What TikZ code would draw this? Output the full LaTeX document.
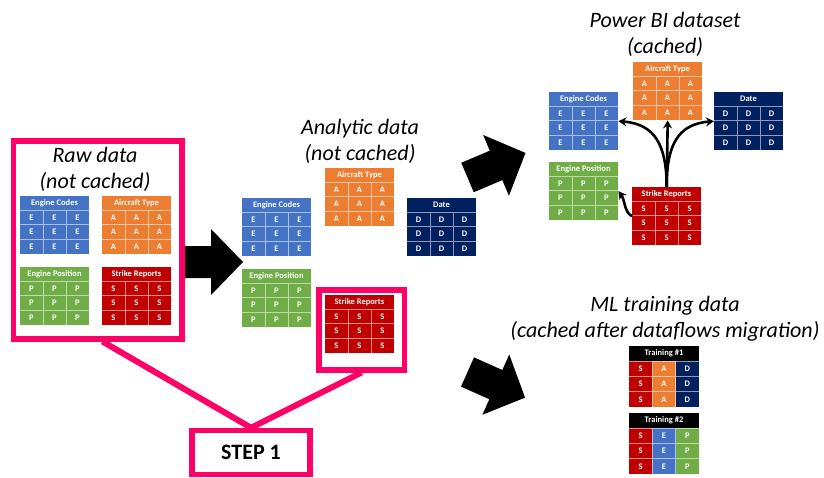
\documentclass[tikz,border=0pt]{standalone}
\usepackage{fontspec}
\setmainfont{Carlito}
\usetikzlibrary{arrows.meta}

\definecolor{ecblue}{RGB}{68,114,196}
\definecolor{atorange}{RGB}{237,125,49}
\definecolor{dtnavy}{RGB}{0,32,96}
\definecolor{epgreen}{RGB}{112,173,71}
\definecolor{srred}{RGB}{192,0,0}
\definecolor{steppink}{RGB}{255,0,102}

\tikzset{
  ttl/.style={font=\itshape\fontsize{22}{26}\selectfont, align=center},
  tblbody/.style={anchor=north west, inner sep=0pt, minimum width=69, minimum height=58},
  tblhead/.style={text=white, font=\bfseries\fontsize{8.5}{9}\selectfont, inner sep=0pt},
  tblcell/.style={text=white, font=\bfseries\fontsize{8.5}{9}\selectfont, inner sep=0pt},
  tblgrid/.style={draw=white, draw opacity=0.55, line width=0.9pt},
  pinkbox/.style={draw=steppink, line width=5.5pt, inner sep=0pt},
  pinkline/.style={draw=steppink, line width=6pt},
  curv/.style={-{Stealth[length=8pt,width=9pt]}, line width=2.6pt},
  bigarrow/.pic={\fill (0,-16) -- (31,-16) -- (31,-33) -- (63,0) -- (31,33) -- (31,16) -- (0,16) -- cycle;}
}

% name, corner, colour, title, letter
\newcommand{\datatable}[5]{%
  \node[tblbody, fill=#3] (#1) at (#2) {};
  \begin{scope}[shift={(#2)}]
    \node[tblhead] at (34.5,7) {#4};
    \foreach \c in {0,1,2}
      \foreach \r in {0,1,2}
        \node[tblcell] at (11.5+23*\c,21.3+14.6*\r) {#5};
    \draw[tblgrid] (0,14) -- (69,14) (0,28.7) -- (69,28.7) (0,43.3) -- (69,43.3)
      (23,14) -- (23,58) (46,14) -- (46,58);
  \end{scope}}

% name, corner, title, colour/letter list
\newcommand{\traintable}[4]{%
  \node[tblbody, minimum width=70, minimum height=61, fill=black] (#1) at (#2) {};
  \begin{scope}[shift={(#2)}]
    \node[tblhead] at (35,7.5) {#3};
    \foreach \cl/\ch [count=\c from 0] in {#4}{
      \fill[\cl] (23.33*\c,15) rectangle ++(23.33,46);
      \foreach \r in {0,1,2}
        \node[tblcell] at (11.67+23.33*\c,22.7+15.3*\r) {\ch};}
    \draw[tblgrid] (0,15) -- (70,15) (0,30.3) -- (70,30.3) (0,45.7) -- (70,45.7)
      (23.33,15) -- (23.33,61) (46.67,15) -- (46.67,61);
  \end{scope}}

\begin{document}
\begin{tikzpicture}[x=1pt,y=-1pt]
  \useasboundingbox (0,0) rectangle (824,477);

  % big arrows between the stages
  \pic at (180,262) {bigarrow};
  \pic[rotate=23] at (467.5,177.5) {bigarrow};
  \pic[rotate=-24] at (467.5,372) {bigarrow};

  % raw data
  \node[pinkbox, minimum width=168.5, minimum height=198, anchor=north west] (rawbox) at (10.5,138) {};
  \node[ttl] (rawtitle) at (95,169) {Raw data\\(not cached)};
  \datatable{rec}{20,196}{ecblue}{Engine Codes}{E}
  \datatable{rat}{102,196}{atorange}{Aircraft Type}{A}
  \datatable{rep}{20,267}{epgreen}{Engine Position}{P}
  \datatable{rsr}{102,267}{srred}{Strike Reports}{S}

  % analytic data
  \node[ttl] (anatitle) at (360,141) {Analytic data\\(not cached)};
  \node[pinkbox, minimum width=85.5, minimum height=80, anchor=north west] (srbox) at (316,287) {};
  \datatable{aat}{325,168}{atorange}{Aircraft Type}{A}
  \datatable{aec}{242,198}{ecblue}{Engine Codes}{E}
  \datatable{adt}{407,198}{dtnavy}{Date}{D}
  \datatable{aep}{242,269}{epgreen}{Engine Position}{P}
  \datatable{asr}{325,295}{srred}{Strike Reports}{S}

  % step 1
  \node[pinkbox, minimum width=118, minimum height=44, font=\bfseries\fontsize{22}{26}\selectfont] (step) at (251,452.5) {STEP 1};
  \draw[pinkline] ([xshift=5pt]rawbox.south) -- (step.north);
  \draw[pinkline] (srbox.south) -- (step.north);

  % power bi dataset
  \node[ttl] (pbititle) at (665,34) {Power BI dataset\\(cached)};
  \datatable{pat}{633,62}{atorange}{Aircraft Type}{A}
  \datatable{pec}{549,92}{ecblue}{Engine Codes}{E}
  \datatable{pdt}{714,92}{dtnavy}{Date}{D}
  \datatable{pep}{549,162}{epgreen}{Engine Position}{P}
  \datatable{psr}{632,187}{srred}{Strike Reports}{S}
  \draw[curv] (psr.north) .. controls (666.5,145) and (655,124) .. (pec.east);
  \draw[curv] (psr.north) -- (pat.south);
  \draw[curv] (psr.north) .. controls (666.5,145) and (678,124) .. (pdt.west);
  \draw[curv] (psr.west) .. controls (624,212) and (625,200) .. (pep.east);

  % ml training data
  \node[ttl] (mltitle) at (665,319) {ML training data\\(cached after dataflows migration)};
  \traintable{tra}{629,346}{Training \#1}{srred/S,atorange/A,dtnavy/D}
  \traintable{trb}{629,413}{Training \#2}{srred/S,ecblue/E,epgreen/P}
\end{tikzpicture}
\end{document}
